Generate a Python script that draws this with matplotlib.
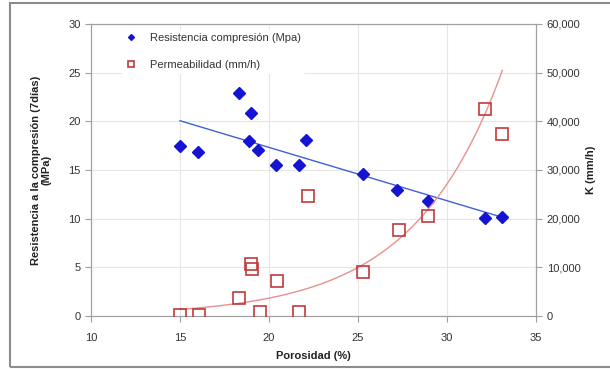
import numpy as np
import matplotlib.pyplot as plt
from matplotlib.patches import Rectangle

plt.rcParams['font.family'] = ['Liberation Sans', 'DejaVu Sans']

# Resistencia a compresion (MPa) vs porosidad
por_res = [15.0, 16.0, 18.3, 19.0, 18.9, 19.4, 20.4, 21.7, 22.1, 25.3, 27.2, 28.9, 32.1, 33.1]
resistencia = [17.5, 16.9, 22.9, 20.9, 18.0, 17.1, 15.5, 15.5, 18.1, 14.6, 12.9, 11.8, 10.1, 10.2]

# Permeabilidad K (mm/h) vs porosidad
por_perm = [15.0, 16.05, 18.3, 19.0, 19.05, 19.5, 20.45, 21.7, 22.2, 25.3, 27.3, 28.9, 32.1, 33.1]
permeab = [200, 200, 3700, 10600, 9700, 800, 7200, 800, 24600, 9000, 17700, 20500, 42500, 37400]

# tendencia exponencial K = a*exp(b*x)
exp_a = 67.3
exp_b = 0.2

fig = plt.figure(figsize=(6.1, 3.69), dpi=100)
fig.patches.append(Rectangle((0.016, 0.006), 1.0, 0.985, transform=fig.transFigure,
                             fill=False, edgecolor='#8c8c8c', linewidth=1.5))
ax = fig.add_axes([0.149, 0.1436, 0.730, 0.7914])
ax2 = ax.twinx()

grid_c = '#e6e6e6'
ax.set_xlim(10, 35)
ax.set_ylim(0, 30)
ax2.set_ylim(0, 60000)
ax.set_xticks([10, 15, 20, 25, 30, 35])
ax.set_yticks([0, 5, 10, 15, 20, 25, 30])
ax2.set_yticks(range(0, 60001, 10000))
ax2.set_yticklabels([f'{v:,}' for v in range(0, 60001, 10000)])
ax.grid(True, color=grid_c, linewidth=0.8)
ax.set_axisbelow(True)

for a in (ax, ax2):
    for s in a.spines.values():
        s.set_color('#a0a0a0')
        s.set_linewidth(0.8)
    a.tick_params(colors='#a0a0a0', labelcolor='#333333', labelsize=8, length=4, width=0.8)
ax.tick_params(axis='x', pad=8)

# tendencia lineal resistencia
coef = np.polyfit(por_res, resistencia, 1)
xl = np.array([min(por_res), max(por_res)])
ax.plot(xl, np.polyval(coef, xl), color='#4060d8', linewidth=1, zorder=2)

# tendencia exponencial permeabilidad
xe = np.linspace(min(por_perm), max(por_perm), 200)
ax2.plot(xe, exp_a * np.exp(exp_b * xe), color='#e89090', linewidth=1, zorder=2)

l1, = ax.plot(por_res, resistencia, 'D', color='#1414d2', markersize=6, zorder=4,
              label='Resistencia compresión (Mpa)')
l2, = ax2.plot(por_perm, permeab, 's', markerfacecolor='none', markeredgecolor='#c0393b',
               markeredgewidth=1.2, markersize=9, zorder=4, label='Permeabilidad (mm/h)')

ax.set_zorder(0)
ax2.set_zorder(1)
ax2.patch.set_visible(False)
ax.patch.set_facecolor('white')

leg = ax2.legend([l1, l2], [l1.get_label(), l2.get_label()], loc='upper left',
                 bbox_to_anchor=(0.055, 1.0), frameon=True, fontsize=8, markerscale=0.5,
                 handlelength=1.2, handletextpad=1.1, labelspacing=1.5, borderpad=0.3)
leg.get_frame().set_edgecolor('white')
leg.get_frame().set_facecolor('white')
leg.get_frame().set_alpha(1)
for t in leg.get_texts():
    t.set_color('#333333')

ax.set_xlabel('Porosidad (%)', fontsize=8, fontweight='bold', color='#222222', labelpad=6)
ax.set_ylabel('Resistencia a la compresión (7días)\n(MPa)', fontsize=8, fontweight='bold',
              color='#222222', labelpad=12, linespacing=1.0)
ax2.set_ylabel('K (mm/h)', fontsize=8, fontweight='bold', color='#222222', labelpad=4)

fig.savefig('out.png', dpi=100)
